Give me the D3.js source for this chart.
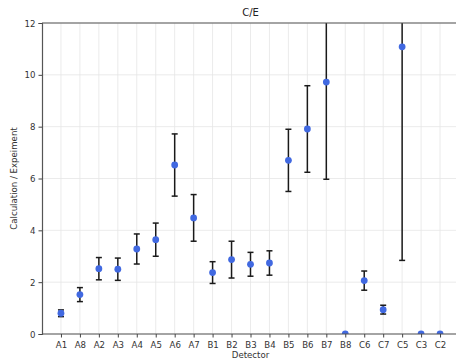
<!DOCTYPE html>
<html>
<head>
<meta charset="utf-8">
<script src="https://cdn.jsdelivr.net/npm/d3@7"></script>
<style>
  html, body { margin: 0; padding: 0; background: #fff; overflow: hidden; }
  svg { display: block; font-family: "DejaVu Sans", sans-serif; }
</style>
</head>
<body>
<svg width="456" height="362"></svg>
<script>
const detectors = ["A1","A8","A2","A3","A4","A5","A6","A7","B1","B2","B3","B4","B5","B6","B7","B8","C6","C7","C5","C3","C2"];
const ratio = [0.80,1.52,2.52,2.50,3.28,3.64,6.52,4.48,2.37,2.87,2.69,2.74,6.70,7.91,9.72,0.0,2.06,0.94,11.08,0.0,0.0];
const err = [0.13,0.27,0.43,0.43,0.58,0.64,1.20,0.90,0.42,0.71,0.46,0.47,1.20,1.67,3.75,0.0,0.37,0.17,8.24,0.0,0.0];
const yTicks = [0,2,4,6,8,10,12];

const svg = d3.select("svg");
const margin = {top: 23, right: 0, bottom: 28, left: 42};
const width = +svg.attr("width");
const height = +svg.attr("height");
const innerWidth = width - margin.left - margin.right;
const innerHeight = height - margin.top - margin.bottom;

// the reference axes run ~3px past the right edge of the picture
const x = d3.scalePoint().domain(detectors).range([0, innerWidth + 3]).padding(1);
const y = d3.scaleLinear().domain([0, 12]).range([innerHeight, 0]);

const g = svg.append("g")
  .attr("transform", "translate(" + margin.left + "," + margin.top + ")");

svg.append("defs").append("clipPath").attr("id", "plot")
  .append("rect").attr("width", innerWidth).attr("height", innerHeight);

// grid
g.append("g").selectAll("line").data(detectors).enter().append("line")
  .attr("x1", d => x(d)).attr("x2", d => x(d))
  .attr("y1", 0).attr("y2", innerHeight)
  .attr("stroke", "#e6e6e6").attr("stroke-width", 0.8);
g.append("g").selectAll("line").data(yTicks).enter().append("line")
  .attr("x1", 0).attr("x2", innerWidth)
  .attr("y1", d => y(d)).attr("y2", d => y(d))
  .attr("stroke", "#e6e6e6").attr("stroke-width", 0.8);

const data = detectors.map((d, i) => ({name: d, v: ratio[i], e: err[i]}));

const plot = g.append("g").attr("clip-path", "url(#plot)");

const bars = plot.selectAll(".eb").data(data.filter(d => d.e > 0)).enter().append("g")
  .attr("stroke", "#1a1a1a").attr("stroke-width", 1.5);
bars.append("line")
  .attr("x1", d => x(d.name)).attr("x2", d => x(d.name))
  .attr("y1", d => y(d.v - d.e)).attr("y2", d => y(d.v + d.e));
bars.append("line")
  .attr("x1", d => x(d.name) - 3).attr("x2", d => x(d.name) + 3)
  .attr("y1", d => y(d.v - d.e)).attr("y2", d => y(d.v - d.e));
bars.append("line")
  .attr("x1", d => x(d.name) - 3).attr("x2", d => x(d.name) + 3)
  .attr("y1", d => y(d.v + d.e)).attr("y2", d => y(d.v + d.e));

plot.selectAll("circle").data(data).enter().append("circle")
  .attr("cx", d => x(d.name)).attr("cy", d => y(d.v))
  .attr("r", 3.4).attr("fill", "#4169e1");

// axes
const xAxis = g.append("g")
  .attr("transform", "translate(0," + innerHeight + ")")
  .call(d3.axisBottom(x).tickSize(3.5).tickPadding(3).tickSizeOuter(0));
xAxis.select(".domain").attr("d", "M0,0H" + innerWidth);
xAxis.selectAll("text").attr("dy", null).attr("y", 13.5);
const yAxis = g.append("g")
  .call(d3.axisLeft(y).tickValues(yTicks).tickSize(3.5).tickPadding(3));
yAxis.selectAll("text").attr("dy", null).attr("y", 3);
[xAxis, yAxis].forEach(a => {
  a.attr("font-size", null).attr("font-family", null);
  a.selectAll("text").attr("font-size", 8.6).attr("fill", "#333").attr("font-family", "DejaVu Sans");
  a.selectAll("line").attr("stroke", "#444");
  a.select(".domain").attr("stroke", "#555").attr("stroke-width", 1.2);
});
g.append("line").attr("x1", 0).attr("x2", innerWidth).attr("y1", 0).attr("y2", 0)
  .attr("stroke", "#555").attr("stroke-width", 1.2);

svg.append("text").attr("x", margin.left + (innerWidth + 3) / 2).attr("y", 16)
  .attr("text-anchor", "middle").attr("font-size", 10).attr("fill", "#222").text("C/E");
svg.append("text").attr("x", margin.left + (innerWidth + 3) / 2).attr("y", 358)
  .attr("text-anchor", "middle").attr("font-size", 8.6).attr("fill", "#333").text("Detector");
svg.append("text")
  .attr("transform", "translate(17," + (margin.top + innerHeight / 2) + ") rotate(-90)")
  .attr("text-anchor", "middle").attr("font-size", 8.6).attr("fill", "#333")
  .text("Calculation / Expeiment");
</script>
</body>
</html>
